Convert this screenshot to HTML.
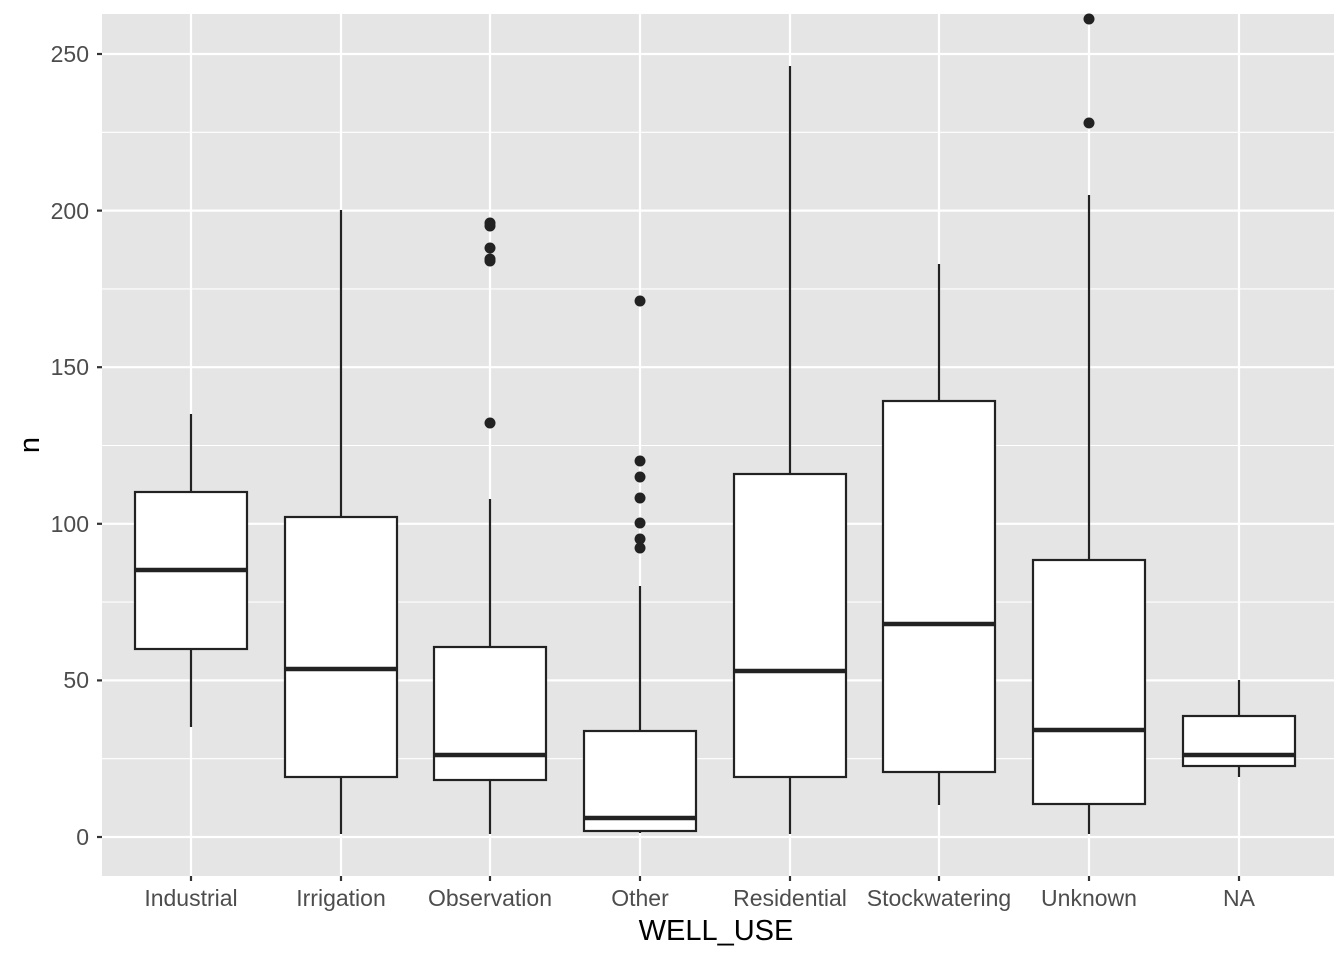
<!DOCTYPE html>
<html><head><style>body{margin:0;background:#fff}</style></head><body>
<svg width="1344" height="960" xmlns="http://www.w3.org/2000/svg" font-family="Liberation Sans, sans-serif">
<rect x="102" y="14" width="1232" height="862" fill="#e5e5e5"/>
<g stroke="#fff" stroke-width="1.1">
<line x1="102" x2="1334" y1="758.7" y2="758.7"/><line x1="102" x2="1334" y1="602.1" y2="602.1"/><line x1="102" x2="1334" y1="445.5" y2="445.5"/><line x1="102" x2="1334" y1="288.9" y2="288.9"/><line x1="102" x2="1334" y1="132.3" y2="132.3"/>
</g>
<g stroke="#fff" stroke-width="2.2">
<line x1="102" x2="1334" y1="837" y2="837"/><line x1="102" x2="1334" y1="680.4" y2="680.4"/><line x1="102" x2="1334" y1="523.8" y2="523.8"/><line x1="102" x2="1334" y1="367.2" y2="367.2"/><line x1="102" x2="1334" y1="210.6" y2="210.6"/><line x1="102" x2="1334" y1="54" y2="54"/>
<line y1="14" y2="876" x1="191" x2="191"/><line y1="14" y2="876" x1="341" x2="341"/><line y1="14" y2="876" x1="490" x2="490"/><line y1="14" y2="876" x1="640" x2="640"/><line y1="14" y2="876" x1="790" x2="790"/><line y1="14" y2="876" x1="939" x2="939"/><line y1="14" y2="876" x1="1089" x2="1089"/><line y1="14" y2="876" x1="1239" x2="1239"/>
</g>
<g stroke="#222" stroke-width="2.2" fill="#fff">
<line x1="191" x2="191" y1="414" y2="727"/><rect x="135" y="492" width="112" height="157"/><line x1="135" x2="247" y1="570" y2="570" stroke-width="4.4"/>
<line x1="341" x2="341" y1="210" y2="834"/><rect x="285" y="517" width="112" height="260"/><line x1="285" x2="397" y1="669" y2="669" stroke-width="4.4"/>
<line x1="490" x2="490" y1="499" y2="834"/><rect x="434" y="647" width="112" height="133"/><line x1="434" x2="546" y1="755" y2="755" stroke-width="4.4"/>
<line x1="640" x2="640" y1="586" y2="833"/><rect x="584" y="731" width="112" height="100"/><line x1="584" x2="696" y1="818" y2="818" stroke-width="4.4"/>
<line x1="790" x2="790" y1="66" y2="834"/><rect x="734" y="474" width="112" height="303"/><line x1="734" x2="846" y1="671" y2="671" stroke-width="4.4"/>
<line x1="939" x2="939" y1="264" y2="805"/><rect x="883" y="401" width="112" height="371"/><line x1="883" x2="995" y1="624" y2="624" stroke-width="4.4"/>
<line x1="1089" x2="1089" y1="195" y2="834"/><rect x="1033" y="560" width="112" height="244"/><line x1="1033" x2="1145" y1="730" y2="730" stroke-width="4.4"/>
<line x1="1239" x2="1239" y1="680" y2="777"/><rect x="1183" y="716" width="112" height="50"/><line x1="1183" x2="1295" y1="755" y2="755" stroke-width="4.4"/>
</g>
<g fill="#222">
<circle cx="490" cy="223" r="5.5"/><circle cx="490" cy="226" r="5.5"/><circle cx="490" cy="248" r="5.5"/><circle cx="490" cy="259" r="5.5"/><circle cx="490" cy="261" r="5.5"/><circle cx="490" cy="423" r="5.5"/>
<circle cx="640" cy="301" r="5.5"/><circle cx="640" cy="461" r="5.5"/><circle cx="640" cy="477" r="5.5"/><circle cx="640" cy="498" r="5.5"/><circle cx="640" cy="523" r="5.5"/><circle cx="640" cy="539" r="5.5"/><circle cx="640" cy="548" r="5.5"/>
<circle cx="1089" cy="19" r="5.5"/><circle cx="1089" cy="123" r="5.5"/>
</g>
<g stroke="#333" stroke-width="2.2">
<line x1="97" x2="102" y1="837" y2="837"/><line x1="97" x2="102" y1="680.4" y2="680.4"/><line x1="97" x2="102" y1="523.8" y2="523.8"/><line x1="97" x2="102" y1="367.2" y2="367.2"/><line x1="97" x2="102" y1="210.6" y2="210.6"/><line x1="97" x2="102" y1="54" y2="54"/>
<line y1="876" y2="881" x1="191" x2="191"/><line y1="876" y2="881" x1="341" x2="341"/><line y1="876" y2="881" x1="490" x2="490"/><line y1="876" y2="881" x1="640" x2="640"/><line y1="876" y2="881" x1="790" x2="790"/><line y1="876" y2="881" x1="939" x2="939"/><line y1="876" y2="881" x1="1089" x2="1089"/><line y1="876" y2="881" x1="1239" x2="1239"/>
</g>
<g fill="#4d4d4d" font-size="23" text-anchor="end">
<text x="89" y="845">0</text><text x="89" y="688">50</text><text x="89" y="532">100</text><text x="89" y="375">150</text><text x="89" y="219">200</text><text x="89" y="62">250</text>
</g>
<g fill="#4d4d4d" font-size="23" text-anchor="middle">
<text x="191" y="906">Industrial</text><text x="341" y="906">Irrigation</text><text x="490" y="906">Observation</text><text x="640" y="906">Other</text><text x="790" y="906">Residential</text><text x="939" y="906">Stockwatering</text><text x="1089" y="906">Unknown</text><text x="1239" y="906">NA</text>
</g>
<text x="716" y="940" font-size="29" text-anchor="middle" fill="#000">WELL_USE</text>
<text transform="translate(39,445) rotate(-90)" font-size="29" text-anchor="middle" fill="#000">n</text>
</svg>
</body></html>
